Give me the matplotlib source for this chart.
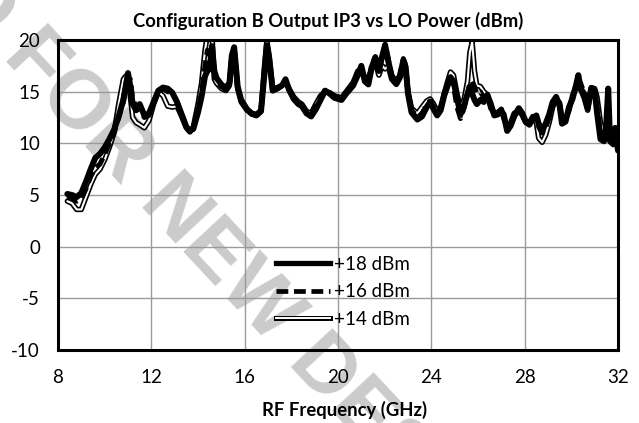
import matplotlib
matplotlib.use("Agg")
import matplotlib.pyplot as plt
from matplotlib.lines import Line2D
from matplotlib.legend_handler import HandlerTuple
from matplotlib.patches import Rectangle
import numpy as np

plt.rcParams['font.family'] = ['Lato', 'DejaVu Sans']

title = "Configuration B Output IP3 vs LO Power (dBm)"
xlabel = "RF Frequency (GHz)"
series_labels = ["+18 dBm", "+16 dBm", "+14 dBm"]
xticks = [8, 12, 16, 20, 24, 28, 32]
yticks = [-10, -5, 0, 5, 10, 15, 20]

freq = [
    8.4, 8.6, 8.8, 9.0, 9.2, 9.4, 9.6, 9.8, 10.0, 10.2,
    10.4, 10.6, 10.8, 10.9, 11.0, 11.1, 11.2, 11.35, 11.5, 11.7,
    11.9, 12.1, 12.3, 12.5, 12.7, 12.9, 13.1, 13.3, 13.5, 13.65,
    13.8, 14.0, 14.15, 14.3, 14.4, 14.5, 14.6, 14.7, 14.8, 15.0,
    15.2, 15.35, 15.45, 15.55, 15.7, 15.85, 16.1, 16.3, 16.5, 16.7,
    16.85, 16.95, 17.05, 17.2, 17.4, 17.6, 17.75, 17.9, 18.1, 18.3,
    18.45, 18.65, 18.85, 19.05, 19.25, 19.45, 19.65, 19.85, 20.15, 20.35,
    20.65, 20.85, 21.0, 21.15, 21.3, 21.45, 21.6, 21.75, 21.9, 22.02,
    22.15, 22.3, 22.5, 22.65, 22.8, 22.9, 23.0, 23.15, 23.4, 23.6,
    23.8, 23.95, 24.1, 24.25, 24.4, 24.55, 24.7, 24.82, 24.95, 25.1,
    25.25, 25.4, 25.55, 25.65, 25.75, 25.85, 25.95, 26.1, 26.25, 26.4,
    26.55, 26.7, 26.85, 27.0, 27.1, 27.25, 27.4, 27.55, 27.75, 27.9,
    28.05, 28.2, 28.35, 28.5, 28.6, 28.75, 28.9, 29.05, 29.2, 29.35,
    29.5, 29.6, 29.75, 29.9, 30.05, 30.2, 30.3, 30.4, 30.55, 30.7,
    30.85, 31.0, 31.1, 31.25, 31.4, 31.5, 31.58, 31.66, 31.8, 31.88,
    32.0,
]

ip3_18 = [
    5.1, 5.0, 4.8, 5.2, 6.3, 7.5, 8.6, 9.0, 9.6, 10.4,
    11.3, 12.6, 14.2, 15.5, 16.8, 15.5, 13.8, 13.2, 13.8, 12.7,
    12.9, 14.0, 15.1, 15.4, 15.3, 14.9, 14.0, 12.8, 11.6, 11.2,
    11.4, 13.0, 14.5, 16.5, 17.0, 17.2, 19.4, 17.0, 16.3, 15.7,
    15.3, 15.9, 18.5, 19.3, 15.5, 14.2, 13.3, 12.9, 12.7, 13.1,
    16.8, 19.5, 18.2, 15.1, 15.3, 15.6, 16.2, 15.2, 14.3, 13.8,
    13.6, 12.9, 12.6, 13.3, 14.2, 15.1, 14.8, 14.4, 14.2, 14.8,
    15.6, 16.6, 17.5, 16.0, 15.7, 17.4, 18.3, 17.0, 18.5, 19.5,
    18.0, 16.5, 15.8, 16.5, 18.0, 17.4, 14.8, 13.0, 12.3, 12.6,
    13.5, 14.0, 13.3, 12.7, 13.2, 14.6, 15.6, 16.4, 16.0, 14.4,
    12.8, 13.6, 14.8, 15.5, 14.8, 14.2, 13.8, 14.2, 14.0, 14.7,
    13.8, 12.7, 12.8, 13.1, 12.8, 11.2, 11.7, 12.6, 13.4, 12.9,
    12.1, 11.8, 12.4, 12.7, 11.9, 11.3, 11.9, 12.8, 14.0, 14.5,
    13.6, 11.9, 12.1, 13.5, 14.3, 15.6, 16.6, 15.3, 14.8, 13.4,
    15.3, 15.1, 13.0, 10.4, 10.2, 12.0, 15.3, 10.2, 9.9, 11.5,
    9.3,
]

ip3_16 = [
    4.9, 4.7, 4.4, 4.6, 5.6, 6.8, 7.6, 8.0, 8.9, 10.0,
    11.0, 12.5, 14.0, 15.5, 15.8, 16.2, 14.3, 13.5, 13.3, 12.5,
    12.7, 13.9, 15.0, 15.3, 15.0, 14.9, 14.0, 12.8, 11.6, 11.2,
    11.5, 13.3, 14.8, 17.5, 19.0, 18.5, 19.0, 16.5, 16.0, 15.5,
    15.2, 15.8, 18.5, 19.2, 15.4, 14.1, 13.2, 12.8, 12.7, 13.0,
    17.0, 19.6, 18.0, 15.2, 15.3, 15.6, 16.0, 15.2, 14.4, 13.9,
    13.7, 13.0, 12.8, 13.6, 14.4, 15.2, 14.9, 14.5, 14.3, 14.9,
    15.8, 16.8, 17.2, 16.3, 16.0, 17.6, 18.4, 17.2, 18.4, 19.6,
    18.2, 16.6, 16.0, 16.6, 18.2, 17.6, 15.0, 13.2, 12.6, 12.8,
    13.8, 14.1, 13.5, 12.9, 13.4, 14.8, 15.7, 16.3, 15.6, 13.5,
    12.4, 13.4, 14.8, 15.8, 16.0, 15.5, 14.8, 15.0, 14.4, 14.5,
    13.6, 12.8, 12.9, 13.2, 12.6, 11.3, 11.8, 12.8, 13.3, 12.8,
    12.0, 11.9, 12.4, 12.5, 11.6, 11.0, 11.5, 12.5, 13.8, 14.4,
    13.7, 12.0, 12.2, 13.4, 14.5, 15.4, 16.2, 15.8, 14.9, 13.8,
    15.0, 14.8, 13.5, 11.0, 10.5, 11.5, 13.0, 10.8, 10.0, 10.5,
    9.5,
]

ip3_14 = [
    4.4, 4.2, 3.6, 3.6, 4.8, 6.0, 7.0, 7.5, 8.4, 9.6,
    11.0, 13.8, 16.2, 16.5, 16.3, 14.5, 12.5, 12.0, 11.8, 11.5,
    12.2, 13.8, 15.0, 14.6, 13.6, 13.5, 13.6, 12.6, 11.5, 11.1,
    11.6, 13.8, 15.8, 19.0, 20.5, 20.5, 20.5, 16.2, 15.8, 15.3,
    15.1, 15.6, 18.3, 19.0, 15.3, 14.0, 13.2, 12.9, 12.8, 13.2,
    17.5, 19.9, 18.5, 15.3, 15.4, 15.6, 15.9, 15.3, 14.5, 14.0,
    13.8, 13.1, 12.9, 13.8, 14.6, 15.0, 14.9, 14.6, 14.4, 15.0,
    15.9, 17.0, 17.0, 16.4, 16.2, 17.3, 17.8, 16.6, 17.5, 17.2,
    17.5, 16.2, 15.7, 16.3, 17.5, 17.0, 15.0, 13.4, 12.9, 13.5,
    14.1, 14.3, 13.8, 13.1, 13.5, 14.8, 16.0, 16.9, 16.6, 14.8,
    13.5, 14.2, 16.0, 18.8, 19.8, 17.0, 15.6, 15.5, 15.0, 14.7,
    13.4, 12.9, 13.0, 13.3, 12.5, 11.5, 12.0, 12.9, 13.2, 12.7,
    12.0, 12.0, 12.6, 12.0, 10.5, 10.1, 10.8, 12.0, 13.5, 14.3,
    13.9, 12.3, 12.3, 13.2, 14.6, 15.5, 15.8, 15.2, 14.4, 13.2,
    15.4, 15.3, 14.5, 12.0, 11.0, 11.0, 11.8, 11.0, 10.2, 10.4,
    9.8,
]

W, H = 639, 423
fig = plt.figure(figsize=(W / 100, H / 100), dpi=100)
ax_left, ax_right, ax_top, ax_bottom = 58, 618, 40, 350
ax = fig.add_axes([ax_left / W, 1 - ax_bottom / H,
                   (ax_right - ax_left) / W, (ax_bottom - ax_top) / H])
ax.set_axisbelow(True)

# +14 dBm: double line (black outline, white core)
ax.plot(freq, ip3_14, color='black', lw=3.9, solid_joinstyle='round',
        solid_capstyle='round', zorder=2)
ax.plot(freq, ip3_14, color='white', lw=1.5, solid_joinstyle='round',
        solid_capstyle='round', zorder=2.1)
# +16 dBm: dashed
ax.plot(freq, ip3_16, color='black', lw=3.6, ls=(0, (2.3, 1.1)),
        dash_joinstyle='round', zorder=2.2)
# +18 dBm: thick solid
ax.plot(freq, ip3_18, color='black', lw=4.3, solid_joinstyle='round',
        solid_capstyle='round', zorder=2.3)

ax.set_xlim(8, 32)
ax.set_ylim(-10, 20)
ax.set_xticks(xticks)
ax.set_yticks(yticks)
ax.set_xticklabels([str(t) for t in xticks])
ax.set_yticklabels([str(t) for t in yticks])
ax.tick_params(axis='both', length=0, labelsize=13.5)
ax.tick_params(axis='x', pad=14)
ax.tick_params(axis='y', pad=13)
ax.grid(True, color='#9a9a9a', lw=1.0)
for s in ax.spines.values():
    s.set_linewidth(2.2)
    s.set_color('black')
    s.set_zorder(3)

fig.text(328 / W, 1 - 21 / H, title, ha='center', va='center',
         fontsize=13.3, fontweight='bold')
fig.text(344 / W, 1 - 410 / H, xlabel, ha='center', va='center',
         fontsize=13.3, fontweight='bold')

# white box behind the legend (hides grid)
ax.add_patch(Rectangle((268 / W, 1 - 331 / H), (411 - 268) / W, (331 - 250) / H,
                       transform=fig.transFigure, facecolor='white',
                       edgecolor='none', zorder=0.2, clip_on=False))

# watermark (below grid and tick labels, above background)
d = np.array([np.cos(np.radians(47)), -np.sin(np.radians(47))])
gap = np.array([146.0, 423 - 180.0])
p1 = gap - d * 12
p2 = gap + d * 12
wm = dict(fontsize=60, fontweight='bold', color='#cbcbcb', rotation=-47,
          rotation_mode='anchor', va='center', family='Liberation Sans',
          transform=fig.transFigure, zorder=0.3, clip_on=False)
ax.text(p1[0] / W, p1[1] / H, "NOT RECOMMENDED FOR", ha='right', **wm)
ax.text(p2[0] / W, p2[1] / H, "NEW DESIGNS", ha='left', **wm)

# legend
h18 = Line2D([], [], color='black', lw=3.8)
h16 = Line2D([], [], color='black', lw=3.4, ls=(0, (2.5, 1.2)))
h14a = Line2D([], [], color='black', lw=3.6)
h14b = Line2D([], [], color='white', lw=1.4)
leg = ax.legend([h18, h16, (h14a, h14b)], series_labels,
                handler_map={tuple: HandlerTuple(ndivide=1, pad=0)},
                loc='upper left', bbox_to_anchor=(276 / W, 1 - 256 / H),
                bbox_transform=fig.transFigure, frameon=False, fontsize=13.5,
                handlelength=2.9, handletextpad=0.2, labelspacing=0.55,
                borderpad=0, borderaxespad=0)
leg.set_zorder(5)

fig.savefig("out.png", dpi=100)
